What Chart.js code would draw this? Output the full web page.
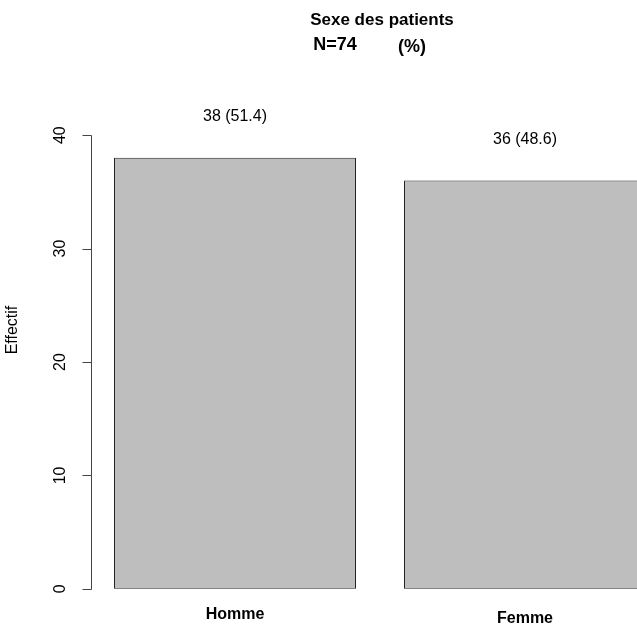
<!DOCTYPE html>
<html>
<head>
<meta charset="utf-8">
<script src="https://cdn.jsdelivr.net/npm/chart.js@4"></script>
<style>
html, body { margin: 0; padding: 0; background: #fff; overflow: hidden; }
#chart { display: block; }
</style>
</head>
<body>
<canvas id="chart" width="700" height="628"></canvas>
<script>
// donnees
var categories = ['Homme', 'Femme'];
var effectifs = [38, 36];
var pourcents = [51.4, 48.6];
var tickValues = [0, 10, 20, 30, 40];
var titre = 'Sexe des patients';
var sousTitreN = 'N=74';
var sousTitrePct = '(%)';
var axeY = 'Effectif';

var police = '"Liberation Sans", Arial, Helvetica, sans-serif';

// tout le texte et l'axe y facon R, dessines a partir des echelles
var dessinR = {
  id: 'dessinR',
  afterDatasetsDraw: function(chart) {
    var ctx = chart.ctx;
    var ys = chart.scales.y;
    var xs = chart.scales.x;
    var area = chart.chartArea;
    var axeX = area.left + 1;
    ctx.save();
    ctx.strokeStyle = '#444';
    ctx.lineWidth = 1;
    ctx.fillStyle = '#000';

    // axe y
    var y0 = Math.round(ys.getPixelForValue(tickValues[0])) + 0.5;
    var y1 = Math.round(ys.getPixelForValue(tickValues[tickValues.length - 1])) + 0.5;
    ctx.beginPath();
    ctx.moveTo(axeX + 0.5, y0);
    ctx.lineTo(axeX + 0.5, y1);
    ys.ticks.forEach(function(t) {
      var py = Math.round(ys.getPixelForValue(t.value)) + 0.5;
      ctx.moveTo(axeX + 0.5, py);
      ctx.lineTo(axeX - 8.5, py);
    });
    ctx.stroke();

    ctx.font = '16px ' + police;
    ctx.textAlign = 'center';
    ctx.textBaseline = 'middle';
    ys.ticks.forEach(function(t) {
      var py = ys.getPixelForValue(t.value);
      ctx.save();
      ctx.translate(61, py);
      ctx.rotate(-Math.PI / 2);
      ctx.fillText(String(t.value), 0, 0);
      ctx.restore();
    });

    // titre de l'axe
    ctx.save();
    ctx.translate(13, 330);
    ctx.rotate(-Math.PI / 2);
    ctx.font = '16px ' + police;
    ctx.fillText(axeY, 0, 0);
    ctx.restore();

    // titres
    ctx.font = 'bold 17px ' + police;
    ctx.fillText(titre, 382, 20);
    ctx.font = 'bold 18px ' + police;
    ctx.fillText(sousTitreN, 335, 45);
    ctx.fillText(sousTitrePct, 412, 47);

    // etiquettes des barres
    var meta = chart.getDatasetMeta(0);
    meta.data.forEach(function(bar, i) {
      ctx.font = '16px ' + police;
      ctx.fillText(effectifs[i] + ' (' + pourcents[i].toFixed(1) + ')', bar.x, bar.y - 41);
      ctx.font = 'bold 16px ' + police;
      ctx.fillText(categories[i], bar.x, bar.base + 26 + i * 4);
    });
    ctx.restore();
  }
};

var kaavio = new Chart(document.getElementById('chart'), {
  type: 'bar',
  data: {
    labels: categories,
    datasets: [{
      data: effectifs,
      backgroundColor: '#BEBEBE',
      borderColor: '#222',
      borderWidth: 1,
      borderSkipped: false,
      barPercentage: 1,
      categoryPercentage: 0.8345
    }]
  },
  options: {
    responsive: false,
    animation: false,
    devicePixelRatio: 1,
    layout: { padding: { left: 90, right: 30, top: 117, bottom: 21 } },
    plugins: { legend: { display: false }, tooltip: { enabled: false }, title: { display: false } },
    scales: {
      x: { display: false, offset: true },
      y: {
        display: false,
        min: -1.6,
        max: 41.6,
        afterBuildTicks: function(scale) {
          scale.ticks = tickValues.map(function(v) { return { value: v }; });
        }
      }
    }
  },
  plugins: [dessinR]
});
</script>
</body>
</html>
